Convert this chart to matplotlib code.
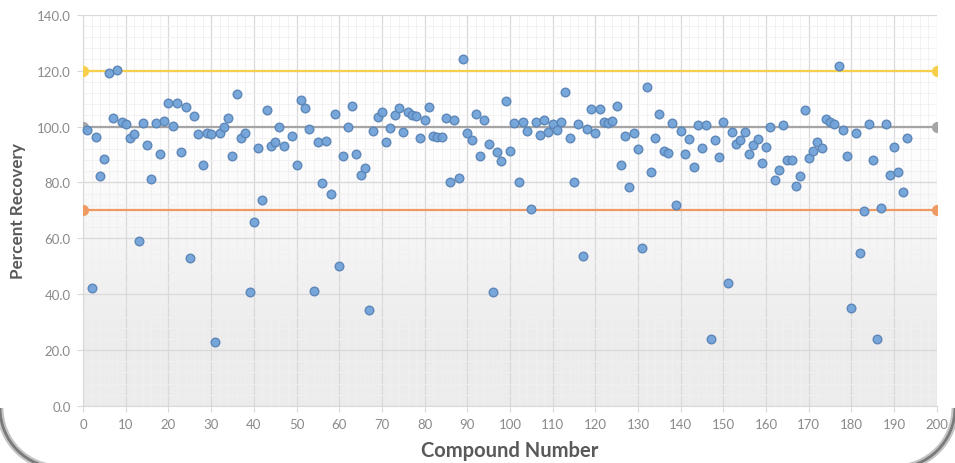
import numpy as np
import matplotlib
matplotlib.use("Agg")
import matplotlib.pyplot as plt
from matplotlib.patches import Arc
from matplotlib.colors import LinearSegmentedColormap
from matplotlib.ticker import MultipleLocator, FormatStrFormatter

plt.rcParams['font.family'] = ['Lato', 'DejaVu Sans']

# compound numbers and percent recovery
compound = [1, 2, 3, 4, 5, 6, 7, 8, 9, 10, 11, 12, 13, 14, 15, 16, 17, 18, 19, 20,
            21, 22, 23, 24, 25, 26, 27, 28, 29, 30, 31, 32, 33, 34, 35, 36, 37, 38, 39, 40,
            41, 42, 43, 44, 45, 46, 47, 49, 50, 51, 52, 53, 54, 55, 56, 57, 58, 59, 60,
            61, 62, 63, 64, 65, 66, 67, 68, 69, 70, 71, 72, 73, 74, 75, 76, 77, 78, 79, 80,
            81, 82, 83, 84, 85, 86, 87, 88, 89, 90, 91, 92, 93, 94, 95, 96, 97, 98, 99, 100,
            101, 102, 103, 104, 105, 106, 107, 108, 109, 110, 111, 112, 113, 114, 115, 116, 117, 118, 119, 120,
            121, 122, 123, 124, 125, 126, 127, 128, 129, 130, 131, 132, 133, 134, 135, 136, 137, 138, 139, 140,
            141, 142, 143, 144, 145, 146, 147, 148, 149, 150, 151, 152, 153, 154, 155, 156, 157, 158, 159, 160,
            161, 162, 163, 164, 165, 166, 167, 168, 169, 170, 171, 172, 173, 174, 175, 176, 177, 178, 179, 180,
            181, 182, 183, 184, 185, 186, 187, 188, 189, 190, 191, 192, 193]
recovery = [98.9, 42.3, 96.3, 82.2, 88.4, 119.0, 103.2, 120.2, 101.6, 100.8,
            95.9, 97.5, 59.2, 101.3, 93.4, 81.4, 101.3, 90.2, 101.9, 108.6,
            100.3, 108.4, 90.8, 107.0, 52.9, 103.6, 97.5, 86.4, 97.8, 97.5,
            22.8, 97.8, 99.8, 102.9, 89.3, 111.8, 95.9, 97.8, 40.6, 65.8,
            92.2, 73.6, 105.8, 93.0, 94.6, 100.0, 93.2, 96.7, 86.4, 109.5,
            106.6, 99.1, 41.0, 94.6, 79.7, 95.0, 75.7, 104.6, 50.0, 89.3,
            100.0, 107.4, 90.1, 82.7, 85.2, 34.5, 98.5, 103.3, 105.1, 94.6,
            99.6, 104.2, 106.6, 97.9, 105.2, 104.2, 103.6, 95.9, 102.2, 107.0,
            96.6, 96.3, 96.3, 102.9, 80.2, 102.5, 81.5, 124.0, 97.7, 95.1,
            104.6, 89.4, 102.4, 93.8, 40.8, 91.0, 87.7, 109.1, 91.2, 101.4,
            80.3, 101.8, 98.5, 70.5, 101.8, 97.1, 102.4, 97.9, 101.0, 98.6,
            101.8, 112.4, 95.9, 80.3, 100.9, 53.5, 99.0, 106.1, 97.7, 106.1,
            101.6, 101.3, 102.1, 107.4, 86.4, 96.7, 78.2, 97.7, 91.9, 56.7,
            114.1, 83.9, 95.9, 104.6, 91.4, 90.6, 101.4, 72.0, 98.4, 90.2,
            95.5, 85.6, 100.4, 92.2, 100.4, 24.1, 95.1, 89.0, 101.6, 44.0,
            97.9, 93.7, 95.3, 97.9, 90.2, 93.4, 95.4, 86.9, 92.7, 100.0,
            80.7, 84.4, 100.4, 88.0, 88.0, 78.7, 82.4, 105.9, 88.7, 91.4,
            94.4, 92.3, 102.8, 101.5, 101.0, 121.6, 98.8, 89.4, 34.9, 97.7,
            54.7, 69.9, 100.8, 88.0, 23.8, 70.7, 101.0, 82.6, 92.6, 83.8,
            76.4, 95.9]

# reference limits drawn as lines with end markers
limit_x = [0, 200]
upper_limit = [120, 120]
target = [100, 100]
lower_limit = [70, 70]

fig = plt.figure(figsize=(9.55, 4.64), dpi=100)
ax = fig.add_axes([0.087, 0.123, 0.894, 0.843])

# plot area fill: white on top fading to light grey at bottom
grad = np.clip((np.linspace(0, 140, 200) - 25) / 70, 0, 1)[:, None]
cmap = LinearSegmentedColormap.from_list('bg', ['#ececec', '#ffffff'])
ax.imshow(grad, extent=[0, 200, 0, 140], origin='lower', aspect='auto',
          cmap=cmap, vmin=0, vmax=1, zorder=0)

ax.set_xlim(0, 200)
ax.set_ylim(0, 140)
ax.xaxis.set_major_locator(MultipleLocator(10))
ax.xaxis.set_minor_locator(MultipleLocator(2))
ax.yaxis.set_major_locator(MultipleLocator(20))
ax.yaxis.set_minor_locator(MultipleLocator(4))
ax.yaxis.set_major_formatter(FormatStrFormatter('%.1f'))
ax.grid(which='major', color='#d9d9d9', linewidth=0.9, zorder=1)
ax.grid(which='minor', color='#f0f0f0', linewidth=0.6, zorder=1)
ax.set_axisbelow(True)

for s in ['top', 'right']:
    ax.spines[s].set_visible(False)
for s in ['left', 'bottom']:
    ax.spines[s].set_color('#d9d9d9')
ax.tick_params(which='major', length=4, color='#d9d9d9', labelcolor='#8a8a8a',
               labelsize=9.5, pad=5)
ax.tick_params(which='minor', length=0)

ax.plot(limit_x, upper_limit, color='#f7cf4a', lw=1.6, marker='o', ms=7, zorder=3)
ax.plot(limit_x, target, color='#a5a5a5', lw=1.6, marker='o', ms=7, zorder=3)
ax.plot(limit_x, lower_limit, color='#ef9a62', lw=1.6, marker='o', ms=7, zorder=3)

ax.plot(compound, recovery, 'o', color='#71a3d9', mec='#5a84b6', mew=1.0, ms=6.2,
        alpha=0.95, zorder=4, clip_on=False)

ax.set_xlabel('Compound Number', fontsize=14.5, fontweight='bold', color='#595959', labelpad=7)
ax.set_ylabel('Percent Recovery', fontsize=12.3, fontweight='bold', color='#595959', labelpad=8)

# shadowed card edge, only its bottom corners show in the picture
r = 0.6
for cx, t1, t2 in [(r, 180, 270), (9.55 - r, 270, 360)]:
    fig.add_artist(Arc((cx, 0.55), 2 * r, 2 * r, theta1=t1, theta2=t2,
                       transform=fig.dpi_scale_trans, color='#c4c4c4', lw=5))
    fig.add_artist(Arc((cx, 0.55), 2 * r, 2 * r, theta1=t1, theta2=t2,
                       transform=fig.dpi_scale_trans, color='#7a7a7a', lw=2))

fig.savefig('out.png', dpi=100)
